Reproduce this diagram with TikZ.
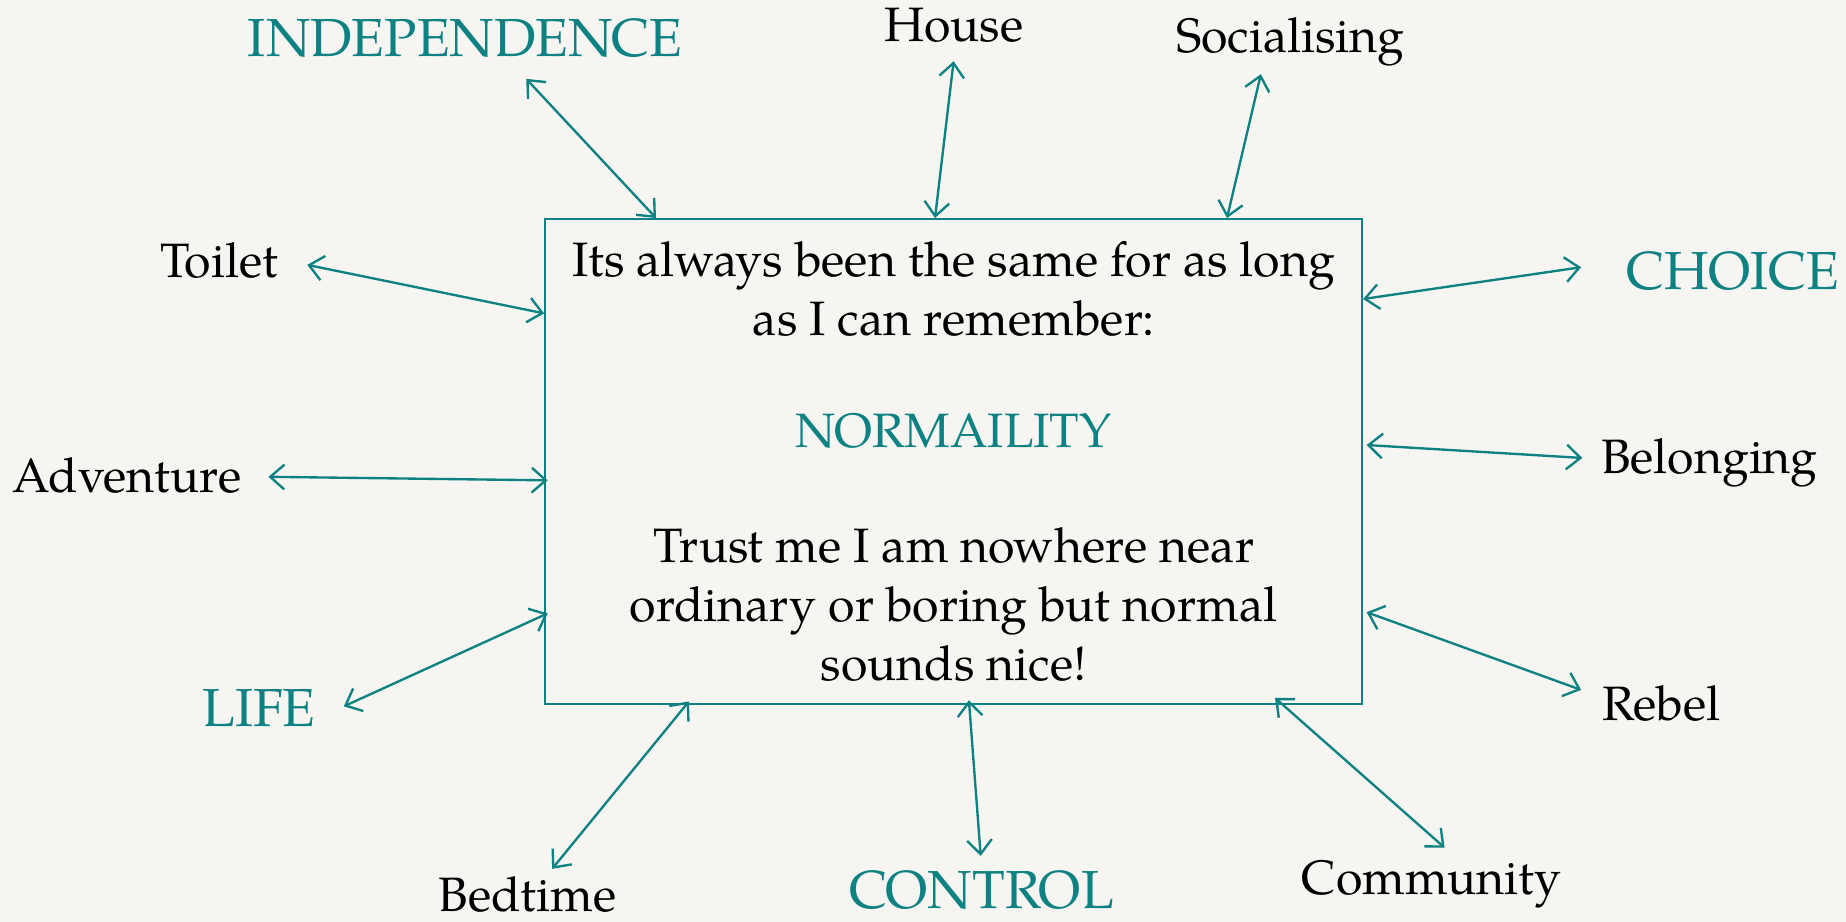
\documentclass[tikz,border=0pt]{standalone}
\usepackage{fontspec}
\setmainfont{TeX Gyre Pagella}
\usetikzlibrary{arrows.meta,calc}
\definecolor{tealc}{HTML}{0E8282}
\definecolor{paper}{HTML}{F7F5F2}
\begin{document}
\begin{tikzpicture}[x=1pt,y=-1pt,
  lbl/.style={font=\fontsize{41}{48}\selectfont, text=black, anchor=base, inner sep=0pt},
  biglbl/.style={font=\fontsize{45.5}{54}\selectfont, text=tealc, anchor=base, inner sep=0pt},
  conn/.style={draw=tealc, line width=2pt, {Straight Barb[length=12pt,width=21pt,line width=2pt]}-{Straight Barb[length=12pt,width=21pt,line width=2pt]}},
  mainbox/.style={draw=tealc, line width=1.6pt, minimum width=694pt, minimum height=412pt, align=center,
     font=\fontsize{41}{50}\selectfont, inner sep=0pt}]
\fill[paper] (0,0) rectangle (1568,783);
\useasboundingbox (0,0) rectangle (1568,783);

\node[mainbox] (box) at (810,392) {Its always been the same for as long\\
as I can remember:\\[45pt]
\textcolor{tealc}{NORMAILITY}\\[48pt]
Trust me I am nowhere near\\
ordinary or boring but normal\\
sounds nice!};

\node[biglbl] (indep) at (395,48) {INDEPENDENCE};
\node[lbl] (house) at (810,35) {House};
\node[lbl] (social) at (1096,45) {Socialising};
\node[biglbl] (choice) at (1472,246) {CHOICE};
\node[lbl] (toilet) at (186,236) {Toilet};
\node[lbl] (belong) at (1452,402) {Belonging};
\node[lbl] (advent) at (108,418) {Adventure};
\node[lbl] (rebel) at (1411,612) {Rebel};
\node[biglbl] (life) at (220,617) {LIFE};
\node[lbl] (bedtime) at (448,774) {Bedtime};
\node[biglbl] (control) at (834,772) {CONTROL};
\node[lbl] (commun) at (1216,760) {Community};

\coordinate (pIndep) at (447,67);
\coordinate (pHouse) at (810,52);
\coordinate (pSocial) at (1071,63);
\coordinate (pToilet) at (261,225);
\coordinate (pChoice) at (1343,227);
\coordinate (pAdvent) at (228,405);
\coordinate (pBelong) at (1344,389);
\coordinate (pLife) at (292,600);
\coordinate (pRebel) at (1343,586);
\coordinate (pBed) at (469,738);
\coordinate (pControl) at (833,727);
\coordinate (pCommun) at (1227,720);

\draw[conn] (pIndep) -- ([xshift=95pt]box.north west);
\draw[conn] (pHouse) -- ([xshift=332pt]box.north west);
\draw[conn] (pSocial) -- ([xshift=580pt]box.north west);
\draw[conn] (pToilet) -- ([yshift=-81pt]box.north west);
\draw[conn] (box.north east |- 0,254) -- (pChoice);
\draw[conn] (pAdvent) -- ([xshift=3pt]box.west |- 0,408);
\draw[conn] ([xshift=3pt]box.east |- 0,378) -- (pBelong);
\draw[conn] (pLife) -- ([xshift=3pt]box.west |- 0,521);
\draw[conn] ([xshift=3pt]box.east |- 0,520) -- (pRebel);
\draw[conn] (pBed) -- ([xshift=123pt,yshift=3pt]box.south west);
\draw[conn] ([yshift=4pt]box.south -| 823,0) -- (pControl);
\draw[conn] ([yshift=6pt]box.south -| 1083,0) -- (pCommun);
\end{tikzpicture}
\end{document}
